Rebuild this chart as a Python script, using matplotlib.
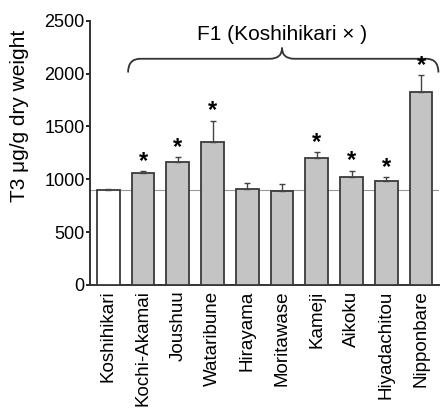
import numpy as np
import matplotlib.pyplot as plt
from matplotlib.path import Path
from matplotlib.patches import PathPatch

plt.rcParams['font.family'] = ['Liberation Sans', 'DejaVu Sans']

cultivars = ["Koshihikari", "Kochi-Akamai", "Joushuu", "Wataribune", "Hirayama",
             "Moritawase", "Kameji", "Aikoku", "Hiyadachitou", "Nipponbare"]
t3 = [900, 1060, 1160, 1357, 905, 892, 1202, 1018, 980, 1828]
err = [12, 18, 50, 195, 62, 65, 55, 65, 42, 155]
signif = [False, True, True, True, False, False, True, True, True, True]

fig = plt.figure(figsize=(4.4, 4.11), dpi=100)
ax = fig.add_axes([0.205, 0.3066, 0.793, 0.643])

x = np.arange(len(cultivars))
colors = ["white"] + ["#c4c4c4"] * (len(cultivars) - 1)
ax.bar(x, t3, width=0.65, color=colors, edgecolor="#3a3a3a", linewidth=1.3, zorder=3)
ax.errorbar(x, t3, yerr=[np.zeros(len(err)), err], fmt="none", ecolor="#444444",
            elinewidth=1.0, capsize=2, capthick=1.0, zorder=4)
ax.axhline(t3[0], color="#999999", linewidth=0.8, zorder=2)

for xi, v, e, s in zip(x, t3, err, signif):
    if s:
        ax.text(xi, v + e - 15, "*", ha="center", va="bottom", fontsize=17, fontweight="bold")

# brace over F1 hybrids
xl, xr, xm = 0.57, 9.5, 5.0
yb, yh, yt = 2010, 2140, 2245
c = 0.35
verts = [(xl, yb), (xl, yh), (xl + c, yh),
         (xm - c, yh), (xm, yh), (xm, yt),
         (xm, yh), (xm + c, yh),
         (xr - c, yh), (xr, yh), (xr, yb)]
codes = [Path.MOVETO, Path.CURVE3, Path.CURVE3,
         Path.LINETO, Path.CURVE3, Path.CURVE3,
         Path.CURVE3, Path.CURVE3,
         Path.LINETO, Path.CURVE3, Path.CURVE3]
ax.add_patch(PathPatch(Path(verts, codes), facecolor="none", edgecolor="#333333",
                       linewidth=1.3, clip_on=False))
ax.text(xm, 2365, "F1 (Koshihikari \u00d7 )", ha="center", va="center", fontsize=15)

ax.set_xlim(-0.52, 9.52)
ax.set_ylim(0, 2500)
ax.set_yticks([0, 500, 1000, 1500, 2000, 2500])
ax.set_xticks(x)
ax.set_xticklabels(cultivars, rotation=90, fontsize=13.5)
ax.tick_params(axis="x", length=0, pad=4)
ax.tick_params(axis="y", labelsize=13, length=3, width=1.2, direction="out", pad=1)
ax.set_ylabel("T3 \u03bcg/g dry weight", fontsize=15, labelpad=4)
ax.yaxis.set_label_coords(-0.175, 0.64)
for s in ["top", "right"]:
    ax.spines[s].set_visible(False)
for s in ["left", "bottom"]:
    ax.spines[s].set_linewidth(1.4)
    ax.spines[s].set_color("#333333")

fig.savefig("out.png", dpi=100)
